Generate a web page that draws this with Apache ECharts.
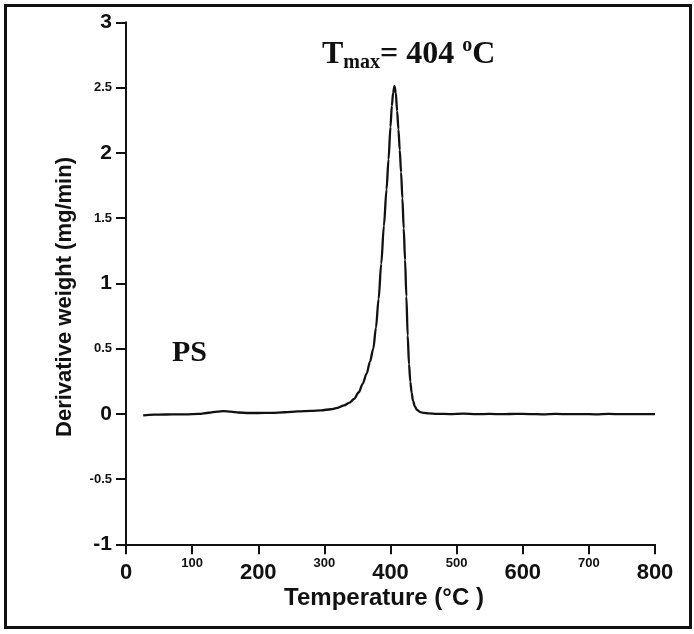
<!DOCTYPE html>
<html>
<head>
<meta charset="utf-8">
<script src="https://cdn.jsdelivr.net/npm/echarts@6/dist/echarts.min.js"></script>
<style>
html,body{margin:0;padding:0;background:#fff;}
#chart{width:694px;height:634px;}
</style>
</head>
<body>
<div id="chart"></div>
<script>
// Temperature (°C)
var temperature = [26, 35, 50, 70, 90, 110, 125, 138, 148, 158, 170, 185, 200, 220, 240, 260, 280, 295, 310, 320, 330, 338, 345, 352, 358, 364, 369, 374, 378, 382, 386, 390, 394, 397, 400, 402, 404, 406, 408, 410, 412, 414, 416, 418, 420, 422, 424, 426, 428, 430, 432, 434, 437, 440, 445, 450, 458, 470, 490, 510, 530, 550, 570, 590, 610, 630, 650, 670, 690, 710, 730, 750, 770, 790, 800];
// Derivative weight (mg/min)
var derivWeight = [-0.012, -0.008, -0.006, -0.005, -0.004, 0.0, 0.008, 0.016, 0.02, 0.016, 0.01, 0.006, 0.006, 0.007, 0.012, 0.018, 0.022, 0.027, 0.035, 0.045, 0.065, 0.085, 0.115, 0.165, 0.23, 0.31, 0.4, 0.5, 0.66, 0.88, 1.15, 1.44, 1.72, 1.95, 2.2, 2.36, 2.46, 2.51, 2.46, 2.32, 2.18, 2.02, 1.85, 1.65, 1.42, 1.18, 0.9, 0.6, 0.38, 0.245, 0.16, 0.1, 0.055, 0.03, 0.013, 0.007, 0.003, 0.0, -0.002, 0.001, -0.003, -0.001, -0.003, 0.0, -0.002, -0.004, -0.001, -0.003, -0.002, -0.004, -0.001, -0.003, -0.002, -0.003, -0.003];
var xMajorTicks = [0, 200, 400, 600, 800];
var yMajorTicks = [-1, 0, 1, 2, 3];
var xTitle = 'Temperature (°C )';
var yTitle = 'Derivative weight (mg/min)';
var sampleLabel = 'PS';
var peakLabel = { pre: 'T', sub: 'max', mid: '= 404 ', sup: 'o', post: 'C' };

var seriesData = temperature.map(function (t, i) { return [t, derivWeight[i]]; });
var SANS = 'Liberation Sans, Arial, sans-serif';
var SERIF = 'Liberation Serif, Times New Roman, serif';

var chart = echarts.init(document.getElementById('chart'), null, { renderer: 'canvas' });
chart.setOption({
  animation: false,
  backgroundColor: '#fff',
  grid: { left: 126, top: 22.3, right: 39, bottom: 89.7, containLabel: false, outerBoundsMode: 'none' },
  xAxis: {
    type: 'value', min: 0, max: 800, interval: 100,
    axisLine: { show: true, onZero: false, lineStyle: { color: '#111', width: 2 } },
    axisTick: { show: true, inside: false, length: 10, lineStyle: { color: '#111', width: 2 } },
    splitLine: { show: false },
    axisLabel: {
      margin: 12, color: '#111',
      formatter: function (v) { return xMajorTicks.indexOf(v) >= 0 ? '{big|' + v + '}' : '{small|' + v + '}'; },
      rich: {
        big: { fontFamily: SANS, fontWeight: 'bold', fontSize: 22, lineHeight: 33, color: '#111' },
        small: { fontFamily: SANS, fontWeight: 'bold', fontSize: 13, lineHeight: 14, color: '#111' }
      }
    }
  },
  yAxis: {
    type: 'value', min: -1, max: 3, interval: 0.5,
    axisLine: { show: true, onZero: false, lineStyle: { color: '#111', width: 2 } },
    axisTick: { show: true, inside: false, length: 10, lineStyle: { color: '#111', width: 2 } },
    splitLine: { show: false },
    axisLabel: {
      margin: 14, color: '#111',
      formatter: function (v) { return yMajorTicks.indexOf(v) >= 0 ? '{big|' + v + '}' : '{small|' + v + '}'; },
      rich: {
        big: { fontFamily: SANS, fontWeight: 'bold', fontSize: 21, color: '#111' },
        small: { fontFamily: SANS, fontWeight: 'bold', fontSize: 13, color: '#111' }
      }
    }
  },
  series: [{
    type: 'line', data: seriesData, showSymbol: false, symbol: 'none',
    smooth: 0.3, smoothMonotone: 'x',
    lineStyle: { color: '#111', width: 2.3 }
  }],
  graphic: [
    { type: 'rect', shape: { x: 5.5, y: 5.5, width: 685, height: 622 }, style: { fill: 'none', stroke: '#111', lineWidth: 3 }, silent: true },
    { type: 'text', x: 384, y: 598, style: { text: xTitle, font: 'bold 24px ' + SANS, fill: '#111', textAlign: 'center', textVerticalAlign: 'middle' } },
    { type: 'text', x: 65, y: 297, rotation: Math.PI / 2, style: { text: yTitle, font: 'bold 22px ' + SANS, fill: '#111', textAlign: 'center', textVerticalAlign: 'middle' } },
    { type: 'text', x: 172, y: 353, style: { text: sampleLabel, font: 'bold 30px ' + SERIF, fill: '#111', textAlign: 'left', textVerticalAlign: 'middle' } },
    { type: 'text', x: 322, y: 36, style: {
        text: '{t|' + peakLabel.pre + '}{sub|' + peakLabel.sub + '}{t|' + peakLabel.mid + '}{sup|' + peakLabel.sup + '}{t|' + peakLabel.post + '}',
        textAlign: 'left', textVerticalAlign: 'top',
        rich: {
          t: { fontFamily: SERIF, fontWeight: 'bold', fontSize: 32, lineHeight: 37, fill: '#111', verticalAlign: 'middle' },
          sub: { fontFamily: SERIF, fontWeight: 'bold', fontSize: 20, lineHeight: 20, fill: '#111', verticalAlign: 'bottom' },
          sup: { fontFamily: SERIF, fontWeight: 'bold', fontSize: 20, lineHeight: 20, fill: '#111', verticalAlign: 'top' }
        }
      } }
  ]
});
</script>
</body>
</html>
